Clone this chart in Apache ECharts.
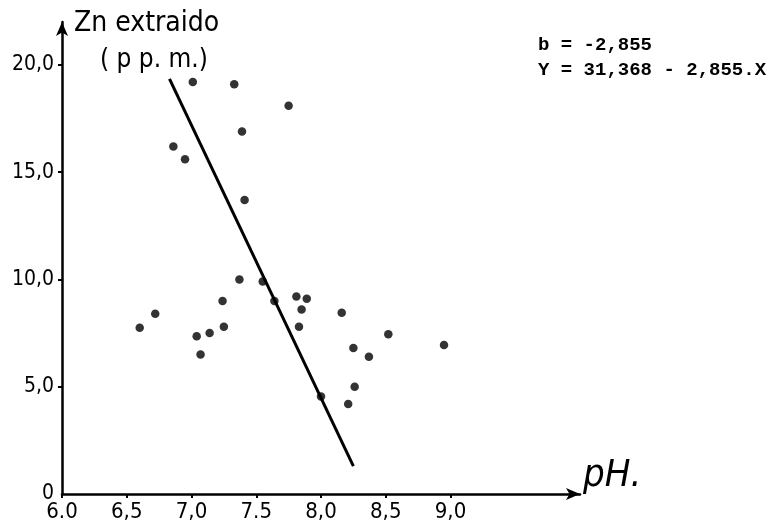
<!DOCTYPE html>
<html>
<head>
<meta charset="utf-8">
<script src="https://cdn.jsdelivr.net/npm/echarts@6/dist/echarts.min.js"></script>
<style>
html,body{margin:0;padding:0;background:#fff;}
#chart{width:770px;height:528px;}
</style>
</head>
<body>
<div id="chart"></div>
<script>
// Data
var phValues = [7.01, 7.33, 7.75, 7.39, 6.86, 6.95, 7.41, 7.37, 7.55, 7.24, 7.64, 7.81, 7.89, 7.85, 8.16, 7.83,
                6.72, 6.60, 7.04, 7.14, 7.25, 7.07, 8.52, 8.95, 8.25, 8.37, 8.26, 8.00, 8.21];
var znValues = [19.2, 19.1, 18.1, 16.9, 16.2, 15.6, 13.7, 10.0, 9.9, 9.0, 9.0, 9.2, 9.1, 8.6, 8.45, 7.8,
                8.4, 7.75, 7.35, 7.5, 7.8, 6.5, 7.45, 6.95, 6.8, 6.4, 5.0, 4.55, 4.2];
var lineX = [6.83, 8.25];
var lineY = [19.35, 1.3];
var xTicks = [6.0, 6.5, 7.0, 7.5, 8.0, 8.5, 9.0];
var xTickLabels = ['6.0', '6,5', '7,0', '7.5', '8,0', '8,5', '9,0'];
var yTicks = [0, 5, 10, 15, 20];
var yTickLabels = ['0', '5,0', '10,0', '15,0', '20,0'];
var yTitle1 = 'Zn extraido';
var yTitle2 = '( p p. m.)';
var xTitle = 'pH.';
var note1 = 'b = -2,855';
var note2 = 'Y = 31,368 - 2,855.X';

var scatterData = phValues.map(function (x, i) { return [x, znValues[i]]; });
var lineData = lineX.map(function (x, i) { return [x, lineY[i]]; });

var hand = '"DejaVu Sans Condensed", "DejaVu Sans", sans-serif';
var mono = '"Liberation Mono", "DejaVu Sans Mono", monospace';
var chart = echarts.init(document.getElementById('chart'), null, {renderer: 'canvas'});
chart.setOption({
  backgroundColor: '#fff',
  animation: false,
  grid: {left: 62, right: 190, top: 22, bottom: 34, containLabel: false},
  xAxis: {
    type: 'value', min: 6, max: 10, interval: 0.5,
    splitLine: {show: false},
    axisLine: {show: true, onZero: false, symbol: ['none', 'arrow'], symbolSize: [9, 14],
               lineStyle: {color: '#000', width: 2.5}},
    axisTick: {show: true, customValues: xTicks, length: 4, lineStyle: {color: '#000', width: 2}},
    axisLabel: {
      customValues: xTicks, margin: 7, color: '#000', fontSize: 22, fontFamily: hand,
      formatter: function (v) {
        for (var i = 0; i < xTicks.length; i++) if (Math.abs(xTicks[i] - v) < 1e-6) return xTickLabels[i];
        return '';
      }
    }
  },
  yAxis: {
    type: 'value', min: 0, max: 22, interval: 5,
    splitLine: {show: false},
    axisLine: {show: true, onZero: false, symbol: ['none', 'arrow'], symbolSize: [9, 14],
               lineStyle: {color: '#000', width: 2.5}},
    axisTick: {show: true, customValues: yTicks.slice(1), length: 4, lineStyle: {color: '#000', width: 2}},
    axisLabel: {
      customValues: yTicks, margin: 8, color: '#000', fontSize: 21, fontFamily: hand,
      formatter: function (v) {
        for (var i = 0; i < yTicks.length; i++) if (Math.abs(yTicks[i] - v) < 1e-6) return yTickLabels[i];
        return '';
      }
    }
  },
  series: [
    {
      type: 'scatter', data: scatterData, symbol: 'circle', symbolSize: 8.5,
      itemStyle: {color: '#000'}, z: 3
    },
    {
      type: 'line', data: lineData, showSymbol: false, symbol: 'none',
      lineStyle: {color: '#000', width: 3}, z: 2
    }
  ],
  graphic: [
    {type: 'text', left: 74, top: 10, style: {text: yTitle1, fontSize: 28, fontFamily: hand, fill: '#000'}},
    {type: 'text', left: 100, top: 47, style: {text: yTitle2, fontSize: 26, fontFamily: hand, fill: '#000'}},
    {type: 'text', left: 583, top: 457, style: {text: xTitle, fontSize: 38, fontStyle: 'italic', fontFamily: hand, fill: '#000'}},
    {type: 'text', left: 538, top: 36, style: {text: note1, fontSize: 19, fontWeight: 'bold', fontFamily: mono, fill: '#000'}},
    {type: 'text', left: 538, top: 61, style: {text: note2, fontSize: 19, fontWeight: 'bold', fontFamily: mono, fill: '#000'}}
  ]
});
</script>
</body>
</html>
